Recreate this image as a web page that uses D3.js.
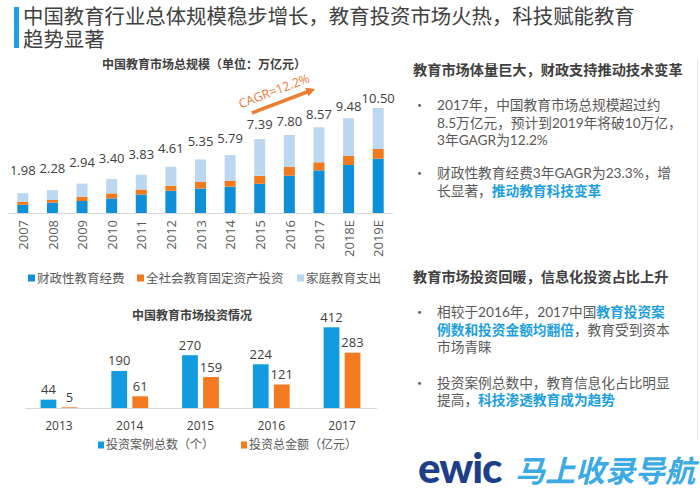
<!DOCTYPE html>
<html><head><meta charset="utf-8">
<script src="https://cdn.jsdelivr.net/npm/d3@7"></script>
<style>
html,body{margin:0;padding:0;background:#fff;}
svg{display:block;}
</style></head>
<body>
<svg id="c" width="700" height="494"></svg>
<script>
// ---- data: market size (万亿元) ----
const years = ["2007","2008","2009","2010","2011","2012","2013","2014","2015","2016","2017","2018E","2019E"];
const fiscal = [0.82,1.04,1.20,1.46,1.85,2.23,2.45,2.64,2.92,3.73,4.27,4.80,5.43];
const fixedAsset = [0.30,0.27,0.43,0.50,0.50,0.50,0.65,0.60,0.80,0.90,0.80,0.90,0.97];
const household = [0.86,0.97,1.31,1.44,1.48,1.88,2.25,2.55,3.67,3.17,3.50,3.78,4.10];
const totals = [1.98,2.28,2.94,3.40,3.83,4.61,5.35,5.79,7.39,7.80,8.57,9.48,10.50];
const seriesNames = ["财政性教育经费","全社会教育固定资产投资","家庭教育支出"];

// ---- data: investment ----
const invYears = ["2013","2014","2015","2016","2017"];
const cases = [44,190,270,224,412];
const amount = [5,61,159,121,283];
const invNames = ["投资案例总数（个）","投资总金额（亿元）"];

const svg = d3.select("#c");
const CJK = "'Noto Sans CJK SC','Noto Sans',sans-serif";
const BODY = "Lato,'Noto Sans CJK SC',sans-serif";
const TITLE = "'Liberation Sans','Noto Sans CJK SC',sans-serif";
const NUM = "'Open Sans','Noto Sans',sans-serif";
const c1 = ["#0F8FD8","#F07A1E","#BCD8F0"];
const c2 = ["#139BE0","#F47B20"];

// ---- main title ----
svg.append("rect").attr("x",14).attr("y",7).attr("width",5).attr("height",41).attr("fill","#1BA1E2");
const titleLines = ["中国教育行业总体规模稳步增长，教育投资市场火热，科技赋能教育","趋势显著"];
const tt = svg.append("text").attr("font-family",TITLE).attr("font-size",20.4).attr("fill","#404040");
tt.selectAll("tspan").data(titleLines).join("tspan")
  .attr("x",23).attr("y",(d,i)=>16.5+i*23).attr("dy","0.36em").text(d=>d);

// ---- chart 1 ----
const x = d3.scalePoint().domain(years).range([8,393]).padding(0.5);
const bw = 11;
const y = d3.scaleLinear().domain([0,10.5]).range([213,108]);
const yLab = d3.scaleLinear().domain([0,10.5]).range([187.5,98]);

svg.append("text").attr("x",204).attr("y",65).attr("dy","0.35em").attr("text-anchor","middle")
  .attr("font-family",CJK).attr("font-size",12).attr("font-weight","bold").attr("fill","#404040")
  .text("中国教育市场总规模（单位：万亿元）");

const stackData = years.map((yr,i)=>({yr, a:fiscal[i], b:fixedAsset[i], c:household[i]}));
const stack = d3.stack().keys(["a","b","c"])(stackData);
svg.append("g").selectAll("g").data(stack).join("g").attr("fill",(d,i)=>c1[i])
  .selectAll("rect").data(d=>d).join("rect")
  .attr("x",d=>x(d.data.yr)-bw/2).attr("width",bw)
  .attr("y",d=>y(d[1])).attr("height",d=>y(d[0])-y(d[1]));

svg.append("line").attr("x1",8).attr("x2",393).attr("y1",213.5).attr("y2",213.5)
  .attr("stroke","#D9D9D9").attr("stroke-width",1);

svg.append("g").selectAll("text").data(years).join("text")
  .attr("x",(d,i)=>x(d)).attr("y",(d,i)=>yLab(totals[i])).attr("dy","0.35em")
  .attr("text-anchor","middle").attr("font-family",NUM).attr("font-size",13).attr("fill","#404040")
  .text((d,i)=>totals[i].toFixed(2));

// x axis labels rotated
const xAxis = d3.axisBottom(x).tickSize(0).tickPadding(0);
const gx = svg.append("g").attr("transform","translate(0,220)").call(xAxis);
gx.select(".domain").remove();
gx.selectAll("text").attr("transform","rotate(-90)").attr("text-anchor","end")
  .attr("x",0).attr("y",0).attr("dy","0.36em")
  .attr("font-family",NUM).attr("font-size",13).attr("fill","#595959");

// CAGR arrow
const defs = svg.append("defs");
defs.append("marker").attr("id","ah").attr("viewBox","0 0 10 10").attr("refX",5).attr("refY",5)
  .attr("markerWidth",2.6).attr("markerHeight",2.6).attr("orient","auto")
  .append("path").attr("d","M0,0L10,5L0,10z").attr("fill","#ED7D31");
svg.append("line").attr("x1",252).attr("y1",113).attr("x2",311).attr("y2",90.5)
  .attr("stroke","#ED7D31").attr("stroke-width",3.5).attr("marker-end","url(#ah)");
svg.append("text").attr("transform","translate(274,91) rotate(-21)").attr("text-anchor","middle")
  .attr("dy","0.35em").attr("font-family",NUM).attr("font-size",12.5).attr("fill","#ED7D31")
  .text("CAGR=12.2%");

// legend 1
const leg1x = [28,137,297];
const lg1 = svg.append("g").selectAll("g").data(seriesNames).join("g")
  .attr("transform",(d,i)=>`translate(${leg1x[i]},278)`);
lg1.append("rect").attr("x",0).attr("y",-3.5).attr("width",7).attr("height",7).attr("fill",(d,i)=>c1[i]);
lg1.append("text").attr("x",9).attr("dy","0.36em").attr("font-family",CJK).attr("font-size",12.5)
  .attr("fill","#595959").text(d=>d);

// ---- chart 2 ----
svg.append("text").attr("x",192).attr("y",316).attr("dy","0.35em").attr("text-anchor","middle")
  .attr("font-family",CJK).attr("font-size",12).attr("font-weight","bold").attr("fill","#404040")
  .text("中国教育市场投资情况");

const x0 = d3.scaleBand().domain(invYears).range([23.6,377.4]).paddingInner(0.48).paddingOuter(0.24);
const x1 = d3.scaleBand().domain([0,1]).range([0,x0.bandwidth()]).paddingInner(0.25);
const y2 = d3.scaleLinear().domain([0,412]).range([408.3,327.3]);
const invData = invYears.map((yr,i)=>({yr, v:[cases[i],amount[i]]}));
const grp = svg.append("g").selectAll("g").data(invData).join("g")
  .attr("transform",d=>`translate(${x0(d.yr)},0)`);
grp.selectAll("rect").data(d=>d.v).join("rect")
  .attr("x",(d,i)=>x1(i)).attr("width",x1.bandwidth())
  .attr("y",d=>y2(d)).attr("height",d=>Math.max(1,y2(0)-y2(d))).attr("fill",(d,i)=>c2[i]);
grp.selectAll("text").data(d=>d.v).join("text")
  .attr("x",(d,i)=>x1(i)+x1.bandwidth()/2).attr("y",d=>y2(d)-10).attr("dy","0.35em")
  .attr("text-anchor","middle").attr("font-family",NUM).attr("font-size",13).attr("fill","#404040")
  .text(d=>d);
svg.append("line").attr("x1",25).attr("x2",377).attr("y1",408.5).attr("y2",408.5)
  .attr("stroke","#D9D9D9");
const gx2 = svg.append("g").attr("transform","translate(0,419)")
  .call(d3.axisBottom(x0).tickSize(0).tickPadding(0));
gx2.select(".domain").remove();
gx2.selectAll("text").attr("y",7).attr("dy","0.35em").attr("font-family",NUM).attr("font-size",12).attr("fill","#404040");

const leg2x = [98,241];
const lg2 = svg.append("g").selectAll("g").data(invNames).join("g")
  .attr("transform",(d,i)=>`translate(${leg2x[i]},445)`);
lg2.append("rect").attr("x",0).attr("y",-3.5).attr("width",6).attr("height",7).attr("fill",(d,i)=>c2[i]);
lg2.append("text").attr("x",8).attr("dy","0.36em").attr("font-family",CJK).attr("font-size",12)
  .attr("fill","#595959").text(d=>d);

// ---- right text panel ----
const HL = "#1E9FE0";
function para(lines, y0, lh){
  const t = svg.append("text").attr("font-family",BODY).attr("font-size",13.7).attr("fill","#595959");
  lines.forEach((segs,li)=>{
    segs.forEach((s,si)=>{
      const ts = t.append("tspan").text(s[0]);
      if(si===0) ts.attr("x",437).attr("y",y0+li*lh+5);
      if(s[1]) ts.attr("fill",HL).attr("font-weight","bold");
    });
  });
  svg.append("text").attr("x",413).attr("y",y0).attr("dy","0.36em").attr("font-family",CJK)
    .attr("font-size",13).attr("fill","#595959").text("•");
}
function heading(txt,yc){
  svg.append("text").attr("x",413).attr("y",yc).attr("dy","0.36em").attr("font-family",CJK)
    .attr("font-size",14.2).attr("font-weight","bold").attr("fill","#404040").text(txt);
}
heading("教育市场体量巨大，财政支持推动技术变革",70);
para([[["2017年，中国教育市场总规模超过约"]],[["8.5万亿元，预计到2019年将破10万亿，"]],[["3年GAGR为12.2%"]]],105,17.5);
para([[["财政性教育经费3年GAGR为23.3%，增"]],[["长显著，"],["推动教育科技变革",1]]],173,17.8);
heading("教育市场投资回暖，信息化投资占比上升",277);
para([[["相较于2016年，2017中国"],["教育投资案",1]],[["例数和投资金额均翻倍",1],["，教育受到资本"]],[["市场青睐"]]],312,17.5);
para([[["投资案例总数中，教育信息化占比明显"]],[["提高，"],["科技渗透教育成为趋势",1]]],383,17);

svg.append("line").attr("x1",697.5).attr("x2",697.5).attr("y1",60).attr("y2",440).attr("stroke","#E6E6E6");

// logo / watermark
svg.append("text").attr("x",418).attr("y",483).attr("font-family","Lato,'Open Sans',sans-serif")
  .attr("font-size",42).attr("font-weight","900").attr("fill","#1D3F8A").attr("letter-spacing",-1).text("ewic");
svg.append("text").attr("x",515).attr("y",482).attr("font-family",CJK).attr("font-size",30)
  .attr("font-weight","bold").attr("font-style","italic").attr("fill","#27A3E3").attr("opacity",0.9).text("马上收录导航");
</script>
</body></html>
